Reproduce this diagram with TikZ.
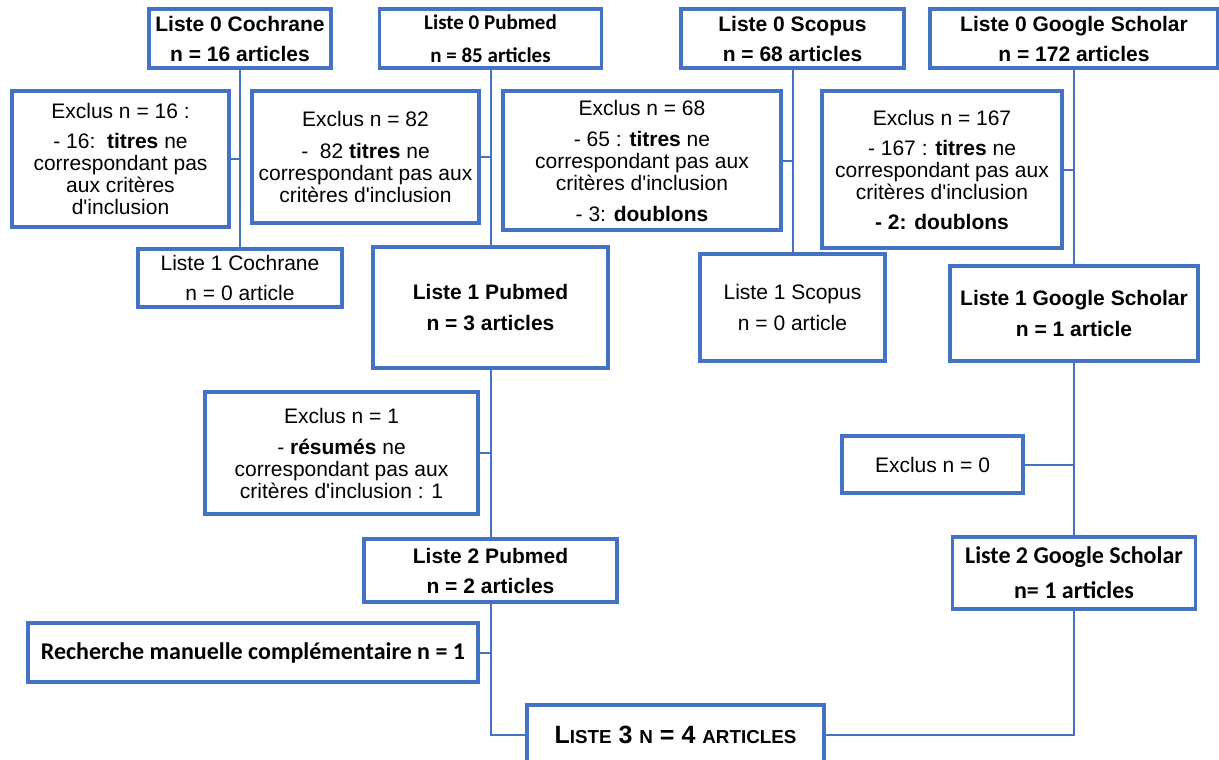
\documentclass[tikz,border=0pt]{standalone}
\usepackage{fontspec}
\setmainfont{Liberation Sans}
\newfontfamily\calfont{Carlito}
\definecolor{boxblue}{RGB}{68,114,196}
\newcommand{\apos}{\textquotesingle}
\begin{document}
\begin{tikzpicture}[x=1pt,y=-1pt,
  bx/.style={draw=boxblue,line width=3.5pt,inner sep=0pt,align=center,anchor=center,text=black},
  conn/.style={draw=boxblue,line width=2pt},
  body/.style={font=\fontsize{21}{22}\selectfont},
  ttl/.style={font=\fontsize{21}{30}\selectfont},
  ttlb/.style={font=\fontsize{21}{30}\selectfont\bfseries},
  calb/.style={font=\calfont\bfseries\fontsize{21}{33}\selectfont},
]
\useasboundingbox (0,0) rectangle (1219,760);

% ---- Liste 0
\node[bx,ttlb,minimum width=182pt,minimum height=59pt] (l0c) at (240,38.5)
  {Liste 0 Cochrane\\n = 16 articles};
\node[bx,calb,minimum width=222pt,minimum height=59pt] (l0p) at (490.5,38.5)
  {Liste 0 Pubmed\\n = 85 articles};
\node[bx,ttlb,minimum width=223pt,minimum height=59pt] (l0s) at (792.5,38.5)
  {Liste 0 Scopus\\n = 68 articles};
\node[bx,ttlb,minimum width=288pt,minimum height=59pt] (l0g) at (1074,38.5)
  {Liste 0 Google Scholar\\n = 172 articles};

% ---- Exclus (titres)
\node[bx,body,minimum width=217pt,minimum height=136pt] (exc) at (120.5,159)
  {Exclus n = 16 :\\[8pt]- 16:~~\textbf{titres} ne\\correspondant pas\\aux critères\\d\apos inclusion};
\node[bx,body,minimum width=227pt,minimum height=132pt] (exp) at (365.5,157)
  {Exclus n = 82\\[10pt]-~~82 \textbf{titres} ne\\correspondant pas aux\\critères d\apos inclusion};
\node[bx,body,minimum width=278pt,minimum height=139pt] (exs) at (642,160.5)
  {Exclus n = 68\\[9pt]- 65 : \textbf{titres} ne\\correspondant pas aux\\critères d\apos inclusion\\[9pt]- 3: \textbf{doublons}};
\node[bx,body,minimum width=240pt,minimum height=157pt] (exg) at (942,169.5)
  {Exclus n = 167\\[8pt]- 167 : \textbf{titres} ne\\correspondant pas aux\\critères d\apos inclusion\\[8pt]\textbf{- 2: doublons}};

% ---- Liste 1
\node[bx,ttl,minimum width=204pt,minimum height=58pt] (l1c) at (240,278)
  {Liste 1 Cochrane\\n = 0 article};
\node[bx,font=\fontsize{21}{31}\selectfont\bfseries,minimum width=235pt,minimum height=121pt] (l1p) at (490.5,307.5)
  {Liste 1 Pubmed\\n = 3 articles};
\node[bx,font=\fontsize{21}{31}\selectfont,minimum width=185pt,minimum height=107pt] (l1s) at (792.5,307.5)
  {Liste 1 Scopus\\n = 0 article};
\node[bx,font=\fontsize{21}{31}\selectfont\bfseries,minimum width=248pt,minimum height=95pt] (l1g) at (1074,313.5)
  {Liste 1 Google Scholar\\n = 1 article};

% ---- Exclus (second stage)
\node[bx,body,minimum width=273pt,minimum height=122pt] (ex1) at (341.5,453)
  {Exclus n = 1\\[9pt]- \textbf{résumés} ne\\correspondant pas aux\\critères d\apos inclusion : 1};
\node[bx,body,minimum width=181pt,minimum height=57pt] (ex0) at (932.5,464.5)
  {Exclus n = 0};

% ---- Liste 2
\node[bx,ttlb,minimum width=253pt,minimum height=63pt] (l2p) at (490.5,570.5)
  {Liste 2 Pubmed\\n = 2 articles};
\node[bx,font=\calfont\bfseries\fontsize{24}{35}\selectfont,minimum width=243pt,minimum height=72pt] (l2g) at (1074,573)
  {Liste 2 Google Scholar\\n= 1 articles};

% ---- Recherche manuelle
\node[bx,font=\calfont\bfseries\fontsize{24}{26}\selectfont,minimum width=450pt,minimum height=59pt] (rec) at (253,652.5)
  {Recherche manuelle complémentaire n = 1};

% ---- Liste 3
\node[bx,minimum width=297pt,minimum height=60pt] (l3) at (675.5,735)
  {\bfseries\fontsize{25}{26}\selectfont L{\fontsize{18.8}{20}\selectfont ISTE} 3 {\fontsize{18.8}{20}\selectfont N} = 4 {\fontsize{18.8}{20}\selectfont ARTICLES}};

% ---- connectors
\draw[conn] (l0c.south) -- (l1c.north);
\draw[conn] (exc.east) -- (exc.east -| l0c.south);
\draw[conn] (l0p.south) -- (l1p.north);
\draw[conn] (exp.east) -- (exp.east -| l0p.south);
\draw[conn] (l0s.south) -- (l1s.north);
\draw[conn] (exs.east) -- (exs.east -| l0s.south);
\draw[conn] (l0g.south) -- (l1g.north);
\draw[conn] (exg.east) -- (exg.east -| l0g.south);

\draw[conn] (l1p.south) -- (l2p.north);
\draw[conn] (ex1.east) -- (ex1.east -| l1p.south);
\draw[conn] (l1g.south) -- (l2g.north);
\draw[conn] (ex0.east) -- (ex0.east -| l1g.south);

\draw[conn] (l2p.south) |- (l3.west);
\draw[conn] (rec.east) -- (rec.east -| l2p.south);
\draw[conn] (l2g.south) |- (l3.east);
\end{tikzpicture}
\end{document}
